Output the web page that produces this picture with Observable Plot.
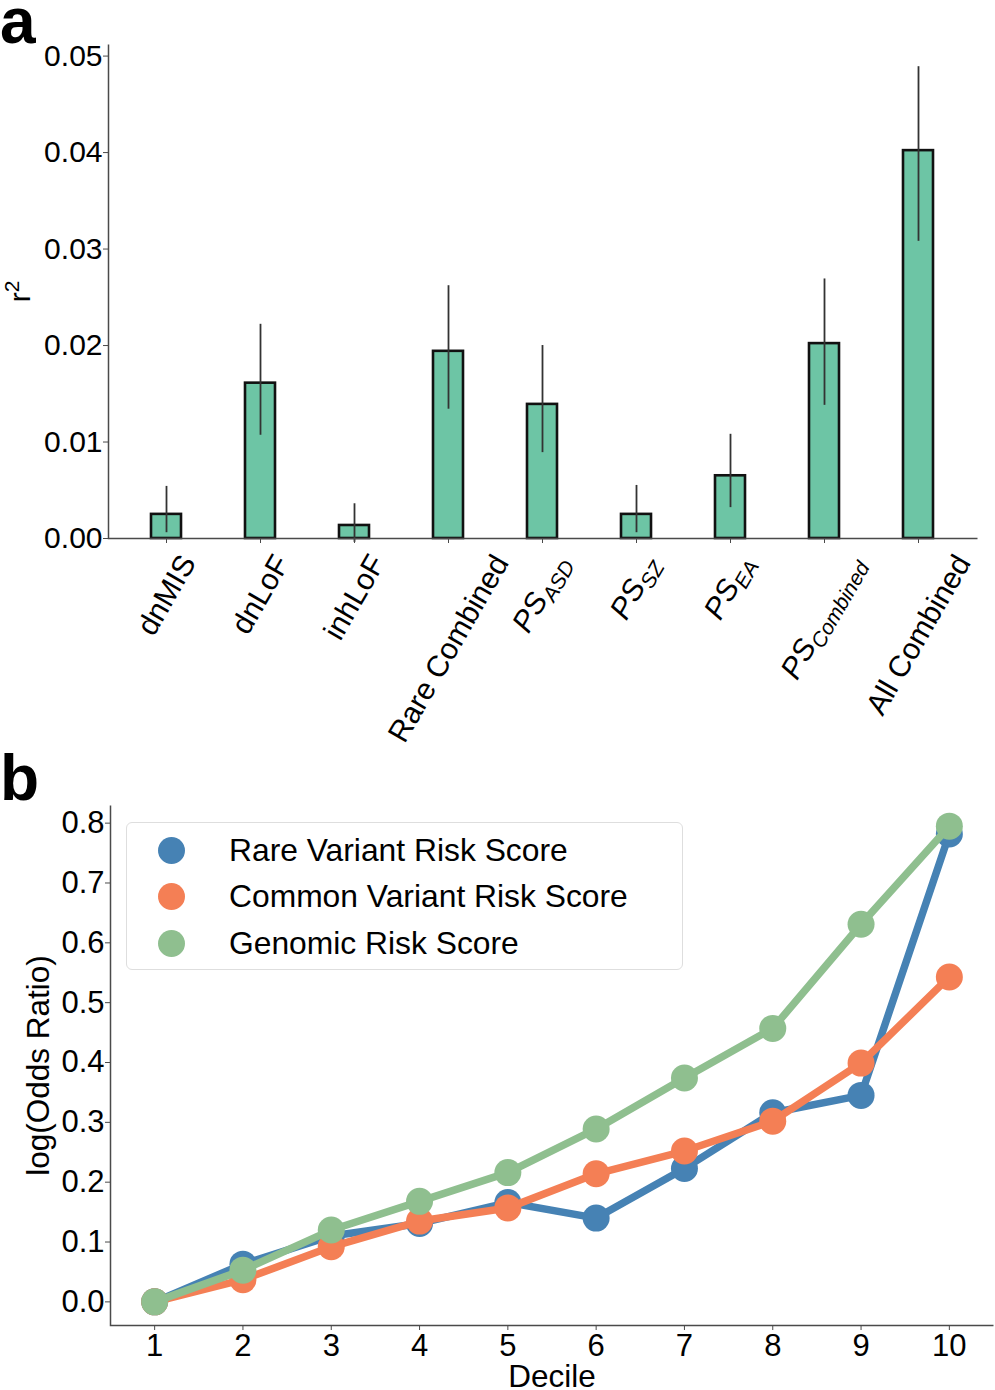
<!DOCTYPE html>
<html>
<head>
<meta charset="utf-8">
<script src="https://cdn.jsdelivr.net/npm/d3@7"></script>
<script src="https://cdn.jsdelivr.net/npm/@observablehq/plot@0.6"></script>
<style>
  body { margin: 0; background: #fff; font-family: "Liberation Sans", Arial, sans-serif; }
  #wrap { position: relative; width: 995px; height: 1390px; overflow: hidden; background: #fff; }
  .panel { position: absolute; left: 0; }
  .letter { position: absolute; font-weight: bold; font-size: 64px; line-height: 40px; color: #000; }
  .legend { position: absolute; box-sizing: border-box; border: 1.3px solid #dedede; border-radius: 6px;
            background: rgba(255,255,255,0.85); z-index: 5; }
  .legend .row { position: absolute; left: 0; height: 40px; width: 100%; }
  .legend .sw { position: absolute; width: 27px; height: 27px; border-radius: 50%; left: 31px; top: 6.5px; }
  .legend .lab { position: absolute; left: 102px; top: 0; line-height: 40px; font-size: 31.8px; color: #000; white-space: nowrap; }
</style>
</head>
<body>
<div id="wrap">
  <div id="pa" class="panel" style="top:0"></div>
  <div id="pb" class="panel" style="top:750px"></div>
  <div class="letter" style="left:0;top:1px">a</div>
  <div class="letter" style="left:0;top:758px">b</div>
  <div id="legend" class="legend" style="left:126px;top:822px;width:557px;height:148px"></div>
</div>
<script>
// ---------- Panel a data ----------
const categories = ["dnMIS", "dnLoF", "inhLoF", "Rare Combined", "PS_ASD", "PS_SZ", "PS_EA", "PS_Combined", "All Combined"];
const r2Values = [0.0025, 0.0161, 0.00135, 0.0194, 0.0139, 0.0025, 0.0065, 0.0202, 0.0402];
const r2Lower  = [0.0006, 0.0107, -0.0004, 0.0134, 0.0089, 0.0006, 0.0032, 0.0138, 0.0308];
const r2Upper  = [0.0054, 0.0222, 0.0036, 0.0262, 0.0200, 0.0055, 0.0108, 0.0269, 0.0489];
const r2Ticks  = [0, 0.01, 0.02, 0.03, 0.04, 0.05];
const titleA   = ["r^2"];

// ---------- Panel b data ----------
const deciles     = [1, 2, 3, 4, 5, 6, 7, 8, 9, 10];
const rareRisk    = [0, 0.063, 0.110, 0.131, 0.166, 0.140, 0.223, 0.316, 0.345, 0.782];
const commonRisk  = [0, 0.037, 0.092, 0.135, 0.157, 0.214, 0.252, 0.302, 0.399, 0.543];
const genomicRisk = [0, 0.053, 0.120, 0.168, 0.216, 0.289, 0.374, 0.457, 0.631, 0.795];
const seriesNames  = ["Rare Variant Risk Score", "Common Variant Risk Score", "Genomic Risk Score"];
const seriesColors = ["#4682b4", "#f47f55", "#8fbf8f"];
const orTicks = [0, 0.1, 0.2, 0.3, 0.4, 0.5, 0.6, 0.7, 0.8];
const titleBy = ["log(Odds Ratio)"];
const titleBx = ["Decile"];

const FONT = "'Liberation Sans', Arial, sans-serif";
const AXIS = "#4a4a4a";
const NS = "http://www.w3.org/2000/svg";

// split "base_sub" / "base^sup" into tspans
function richText(t, key) {
  while (t.firstChild) t.removeChild(t.firstChild);
  const m = key.match(/^(.*?)([_^])(.*)$/);
  if (!m) { t.textContent = key; return; }
  const a = document.createElementNS(NS, "tspan"); a.textContent = m[1]; t.appendChild(a);
  const b = document.createElementNS(NS, "tspan"); b.textContent = m[3];
  b.setAttribute("font-size", "0.7em");
  b.setAttribute("dy", m[2] === "_" ? "0.3em" : "-0.55em");
  t.appendChild(b);
}

// ---------- Panel a ----------
const A = {width: 995, height: 750, ml: 108, mr: 18, mt: 44, mb: 212};
const aW = A.width - A.ml - A.mr, aH = A.height - A.mt - A.mb;
const barData = categories.map((c, i) => ({cat: c, r2: r2Values[i], lo: r2Lower[i], hi: r2Upper[i]}));

const chartA = Plot.plot({
  width: A.width, height: A.height,
  marginLeft: A.ml, marginRight: A.mr, marginTop: A.mt, marginBottom: A.mb,
  style: {fontFamily: FONT, fontSize: "30px", color: "#000", background: "#fff"},
  x: {type: "band", domain: categories, paddingInner: 0.678, paddingOuter: 0.432},
  y: {domain: [0, 0.0512]},
  marks: [
    Plot.barY(barData, {x: "cat", y: "r2", fill: "#6dc5a5", stroke: "#111", strokeWidth: 2.6}),
    Plot.ruleX(barData, {x: "cat", y1: "lo", y2: "hi", stroke: "#333", strokeWidth: 1.8}),
    // left + bottom spines (frame drawn only along its bottom and left sides)
    Plot.frame({stroke: AXIS, strokeWidth: 1.5, strokeDasharray: `0,${aW + aH},${aW + aH}`}),
    Plot.axisY({ticks: r2Ticks, tickFormat: d3.format(".2f"), tickSize: 5, tickPadding: 1, stroke: AXIS, label: null}),
    Plot.axisX({tickSize: 5, tickRotate: -60, label: null, stroke: AXIS}),
    Plot.text(titleA, {text: d => d, frameAnchor: "left", textAnchor: "middle", dx: -88, rotate: -90, fontSize: 30})
  ]
});
document.getElementById("pa").appendChild(chartA);

// y title with superscript
chartA.querySelectorAll("text").forEach(t => { if (titleA.includes(t.textContent)) richText(t, t.textContent); });

// subscripts and matplotlib-like centring of the rotated tick labels
(function fixLabels() {
  const xs = chartA.scale("x");
  const bw = xs.bandwidth || 0;
  const topY = A.height - A.mb + 11;
  const svgRect = chartA.getBoundingClientRect();
  chartA.querySelectorAll('g[aria-label="x-axis tick label"] text').forEach(t => {
    const key = t.textContent;
    if (!categories.includes(key)) return;
    richText(t, key);
    if (key.includes("_")) t.setAttribute("font-style", "italic");
    t.removeAttribute("x"); t.removeAttribute("y");
    t.setAttribute("text-anchor", "middle");
    t.setAttribute("dy", "0.35em");
    const cxT = xs.apply(key) + bw / 2;
    let cx = cxT, cy = topY + 60;
    t.setAttribute("transform", `translate(${cx},${cy}) rotate(-60)`);
    const r = t.getBoundingClientRect();
    const acx = (r.left + r.right) / 2 - svgRect.left;
    const atop = r.top - svgRect.top;
    cx += cxT - acx; cy += topY - atop;
    t.setAttribute("transform", `translate(${cx},${cy}) rotate(-60)`);
  });
})();

// ---------- Panel b ----------
const B = {width: 995, height: 640, ml: 110, mr: 2, mt: 55, mb: 65};
const bW = B.width - B.ml - B.mr, bH = B.height - B.mt - B.mb;
const seriesValues = [rareRisk, commonRisk, genomicRisk];
const lineData = [];
seriesNames.forEach((s, k) => deciles.forEach((d, i) => lineData.push({series: s, decile: d, value: seriesValues[k][i]})));

const seriesMarks = [];
seriesNames.forEach(s => {
  const sub = lineData.filter(d => d.series === s);
  seriesMarks.push(Plot.line(sub, {x: "decile", y: "value", stroke: "series", strokeWidth: 7.5}));
  seriesMarks.push(Plot.dot(sub, {x: "decile", y: "value", fill: "series", r: 13.5}));
});

const chartB = Plot.plot({
  width: B.width, height: B.height,
  marginLeft: B.ml, marginRight: B.mr, marginTop: B.mt, marginBottom: B.mb,
  style: {fontFamily: FONT, fontSize: "31px", color: "#000", background: "#fff"},
  x: {domain: [0.5, 10.5]},
  y: {domain: [-0.0395, 0.8295]},
  color: {domain: seriesNames, range: seriesColors},
  marks: [
    ...seriesMarks,
    Plot.frame({stroke: AXIS, strokeWidth: 1.5, strokeDasharray: `0,${bW + bH},${bW + bH}`}),
    Plot.axisY({ticks: orTicks, tickFormat: d3.format(".1f"), tickSize: 5, tickPadding: 1, stroke: AXIS, label: null}),
    Plot.axisX({ticks: deciles, tickFormat: d3.format("d"), tickSize: 5, tickPadding: 3, stroke: AXIS, label: null}),
    Plot.text(titleBy, {text: d => d, frameAnchor: "left", textAnchor: "middle", dx: -72, rotate: -90, fontSize: 31.5}),
    Plot.text(titleBx, {text: d => d, frameAnchor: "bottom", textAnchor: "middle", lineAnchor: "bottom", dy: 61, fontSize: 31.5})
  ]
});
document.getElementById("pb").appendChild(chartB);

// ---------- Legend ----------
const legend = document.getElementById("legend");
const rowTops = [7, 53, 100];
seriesNames.forEach((s, i) => {
  const row = document.createElement("div");
  row.className = "row"; row.style.top = rowTops[i] + "px";
  const sw = document.createElement("div");
  sw.className = "sw"; sw.style.background = seriesColors[i];
  const lab = document.createElement("div");
  lab.className = "lab"; lab.textContent = s;
  row.appendChild(sw); row.appendChild(lab); legend.appendChild(row);
});
</script>
</body>
</html>
